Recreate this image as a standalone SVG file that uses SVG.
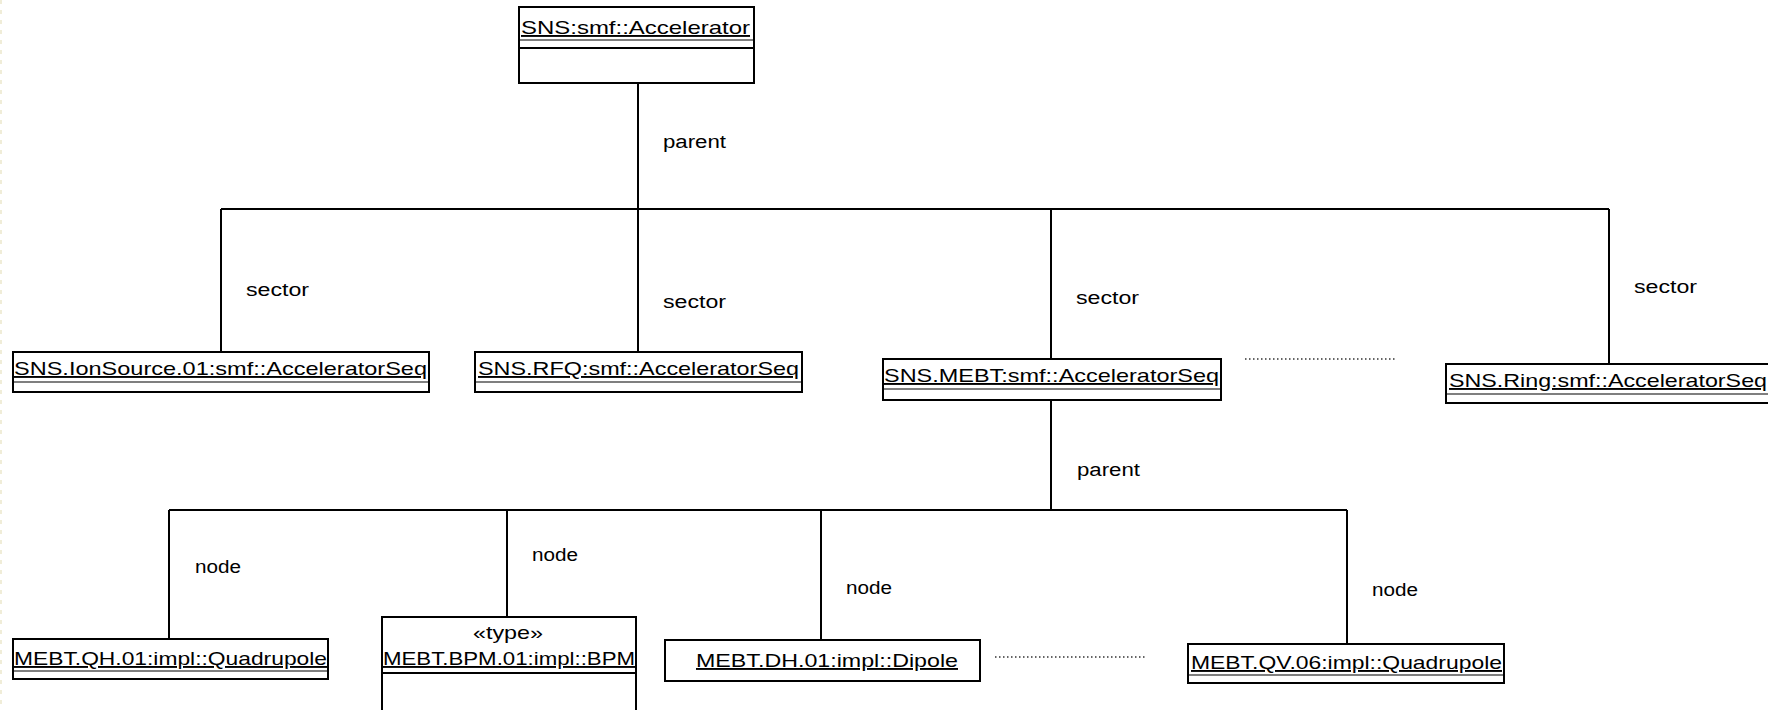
<svg xmlns="http://www.w3.org/2000/svg" width="1768" height="710" viewBox="0 0 1768 710">
<style>
  .box{fill:#fff;stroke:#000;stroke-width:2}
  .sep{stroke:#000;stroke-width:2}
  .sep2{stroke:#000;stroke-width:1.2}
  .name{font-family:"Liberation Sans",Arial,sans-serif;font-size:19px;fill:#000;text-decoration:underline}
  .stereo{font-family:"Liberation Sans",Arial,sans-serif;font-size:19px;fill:#000}
  .lbl{font-family:"Liberation Sans",Arial,sans-serif;font-size:18px;fill:#000}
  .conn{stroke:#000;stroke-width:2;fill:none}
  .dots{stroke:#333;stroke-width:1.5;stroke-dasharray:1.5 2.5;fill:none}
</style>
<rect x="0" y="0" width="1768" height="710" fill="#fff"/>
<line x1="1" y1="0" x2="1" y2="710" stroke="#ebe7cc" stroke-width="1.5" stroke-dasharray="4 6"/>

<g id="connectors">
  <path class="conn" d="M638,83 V209"/>
  <path class="conn" d="M221,209 H1609"/>
  <path class="conn" d="M221,209 V352"/>
  <path class="conn" d="M638,209 V352"/>
  <path class="conn" d="M1051,209 V359"/>
  <path class="conn" d="M1609,209 V364"/>
  <path class="conn" d="M1051,400 V510"/>
  <path class="conn" d="M169,510 H1347"/>
  <path class="conn" d="M169,510 V639"/>
  <path class="conn" d="M507,510 V617"/>
  <path class="conn" d="M821,510 V640"/>
  <path class="conn" d="M1347,510 V644"/>
  <path class="dots" d="M1245,359 H1395"/>
  <path class="dots" d="M995,657 H1145"/>
  <text class="lbl" x="663" y="148" textLength="63" lengthAdjust="spacingAndGlyphs">parent</text>
  <text class="lbl" x="246" y="296" textLength="63" lengthAdjust="spacingAndGlyphs">sector</text>
  <text class="lbl" x="663" y="308" textLength="63" lengthAdjust="spacingAndGlyphs">sector</text>
  <text class="lbl" x="1076" y="304" textLength="63" lengthAdjust="spacingAndGlyphs">sector</text>
  <text class="lbl" x="1634" y="293" textLength="63" lengthAdjust="spacingAndGlyphs">sector</text>
  <text class="lbl" x="1077" y="476" textLength="63" lengthAdjust="spacingAndGlyphs">parent</text>
  <text class="lbl" x="195" y="573" textLength="46" lengthAdjust="spacingAndGlyphs">node</text>
  <text class="lbl" x="532" y="561" textLength="46" lengthAdjust="spacingAndGlyphs">node</text>
  <text class="lbl" x="846" y="594" textLength="46" lengthAdjust="spacingAndGlyphs">node</text>
  <text class="lbl" x="1372" y="596" textLength="46" lengthAdjust="spacingAndGlyphs">node</text>
</g>

<g id="accelerator">
  <rect class="box" x="519" y="7" width="235" height="76"/>
  <text class="name" x="521" y="34" textLength="229" lengthAdjust="spacingAndGlyphs">SNS:smf::Accelerator</text>
  <line class="sep2" x1="519" y1="40" x2="754" y2="40"/>
  <line class="sep" x1="519" y1="48" x2="754" y2="48"/>
</g>

<g id="ionsource">
  <rect class="box" x="13" y="352" width="416" height="40"/>
  <text class="name" x="14" y="375" textLength="413" lengthAdjust="spacingAndGlyphs">SNS.IonSource.01:smf::AcceleratorSeq</text>
  <line class="sep2" x1="13" y1="382" x2="429" y2="382"/>
</g>

<g id="rfq">
  <rect class="box" x="475" y="352" width="327" height="40"/>
  <text class="name" x="478" y="375" textLength="321" lengthAdjust="spacingAndGlyphs">SNS.RFQ:smf::AcceleratorSeq</text>
  <line class="sep2" x1="475" y1="382" x2="802" y2="382"/>
</g>

<g id="mebt">
  <rect class="box" x="883" y="359" width="338" height="41"/>
  <text class="name" x="884" y="382" textLength="335" lengthAdjust="spacingAndGlyphs">SNS.MEBT:smf::AcceleratorSeq</text>
  <line class="sep2" x1="883" y1="389" x2="1221" y2="389"/>
</g>

<g id="ring">
  <rect class="box" x="1446" y="364" width="330" height="39"/>
  <text class="name" x="1449" y="387" textLength="318" lengthAdjust="spacingAndGlyphs">SNS.Ring:smf::AcceleratorSeq</text>
  <line class="sep2" x1="1446" y1="394" x2="1768" y2="394"/>
</g>

<g id="qh01">
  <rect class="box" x="13" y="639" width="315" height="40"/>
  <text class="name" x="14" y="665" textLength="313" lengthAdjust="spacingAndGlyphs">MEBT.QH.01:impl::Quadrupole</text>
  <line class="sep2" x1="13" y1="671" x2="328" y2="671"/>
</g>

<g id="bpm01">
  <rect class="box" x="382" y="617" width="254" height="110"/>
  <text class="stereo" x="508" y="639" text-anchor="middle" textLength="70" lengthAdjust="spacingAndGlyphs">«type»</text>
  <text class="name" x="383" y="665" textLength="252" lengthAdjust="spacingAndGlyphs">MEBT.BPM.01:impl::BPM</text>
  <line class="sep" x1="382" y1="673" x2="636" y2="673"/>
</g>

<g id="dh01">
  <rect class="box" x="665" y="640" width="315" height="41"/>
  <text class="name" x="696" y="667" textLength="262" lengthAdjust="spacingAndGlyphs">MEBT.DH.01:impl::Dipole</text>
</g>

<g id="qv06">
  <rect class="box" x="1188" y="644" width="316" height="39"/>
  <text class="name" x="1191" y="669" textLength="311" lengthAdjust="spacingAndGlyphs">MEBT.QV.06:impl::Quadrupole</text>
  <line class="sep2" x1="1188" y1="675" x2="1504" y2="675"/>
</g>
</svg>
